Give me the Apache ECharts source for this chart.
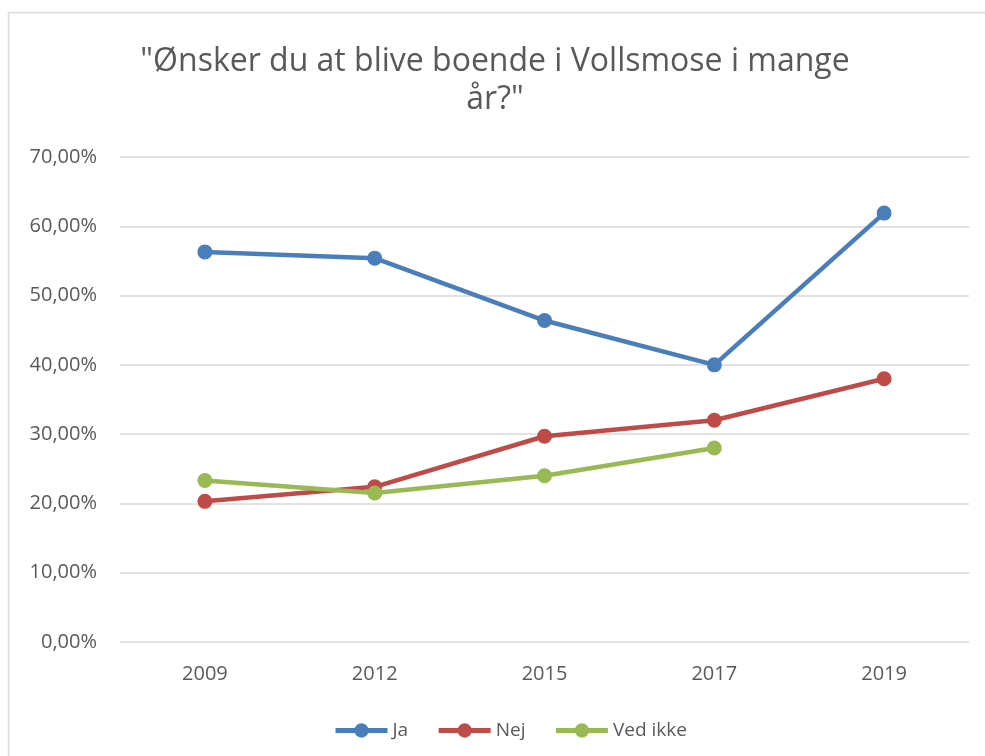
<!DOCTYPE html>
<html>
<head>
<meta charset="utf-8">
<script src="https://cdn.jsdelivr.net/npm/echarts@6/dist/echarts.min.js"></script>
<style>
  html, body { margin: 0; padding: 0; background: #fff; }
  #chart { width: 985px; height: 756px; }
</style>
</head>
<body>
<div id="chart"></div>
<script>
const years = ['2009', '2012', '2015', '2017', '2019']
const ja = [56.3, 55.4, 46.4, 40.0, 61.9]
const nej = [20.3, 22.4, 29.7, 32.0, 38.0]
const vedIkke = [23.3, 21.5, 24.0, 28.0, null]
const yTicks = [0, 10, 20, 30, 40, 50, 60, 70]

const font = '"Open Sans", "Noto Sans", sans-serif'
const textColor = '#595959'

function lineSeries(name, data, color) {
  return {
    name,
    type: 'line',
    data,
    symbol: 'circle',
    symbolSize: 15,
    lineStyle: { color, width: 4.5 },
    itemStyle: { color },
    connectNulls: false,
    animation: false
  }
}

const chart = echarts.init(document.getElementById('chart'))
chart.setOption({
  textStyle: { fontFamily: font },
  title: {
    text: '"Ønsker du at blive boende i Vollsmose i mange\når?"',
    left: 490,
    top: 38,
    textAlign: 'center',
    textStyle: { fontFamily: font, fontSize: 32, fontWeight: 'normal', color: textColor, lineHeight: 38 }
  },
  graphic: [{
    type: 'rect',
    shape: { x: 8.5, y: 12.5, width: 1000, height: 800 },
    style: { fill: 'none', stroke: '#d9d9d9', lineWidth: 1.5 },
    silent: true
  }],
  legend: {
    bottom: 11,
    left: 328,
    itemWidth: 52,
    itemHeight: 18,
    itemGap: 28,
    lineStyle: { width: 5 },
    textStyle: { fontFamily: font, fontSize: 19, color: textColor },
    data: ['Ja', 'Nej', 'Ved ikke']
  },
  grid: { left: 120, right: 16, top: 157, bottom: 114 },
  xAxis: {
    type: 'category',
    data: years,
    boundaryGap: true,
    axisLine: { show: false },
    axisTick: { show: false },
    axisLabel: { fontFamily: font, fontSize: 20, color: textColor, margin: 22 }
  },
  yAxis: {
    type: 'value',
    min: yTicks[0],
    max: yTicks[yTicks.length - 1],
    interval: 10,
    axisLine: { show: false },
    axisTick: { show: false },
    splitLine: { lineStyle: { color: '#d9d9d9', width: 1.5 } },
    axisLabel: {
      fontFamily: font, fontSize: 20, color: textColor, margin: 23,
      formatter: v => v.toFixed(2).replace('.', ',') + '%'
    }
  },
  series: [
    lineSeries('Ja', ja, '#4a7ebb'),
    lineSeries('Nej', nej, '#be4b48'),
    lineSeries('Ved ikke', vedIkke, '#98b954')
  ]
})
</script>
</body>
</html>
